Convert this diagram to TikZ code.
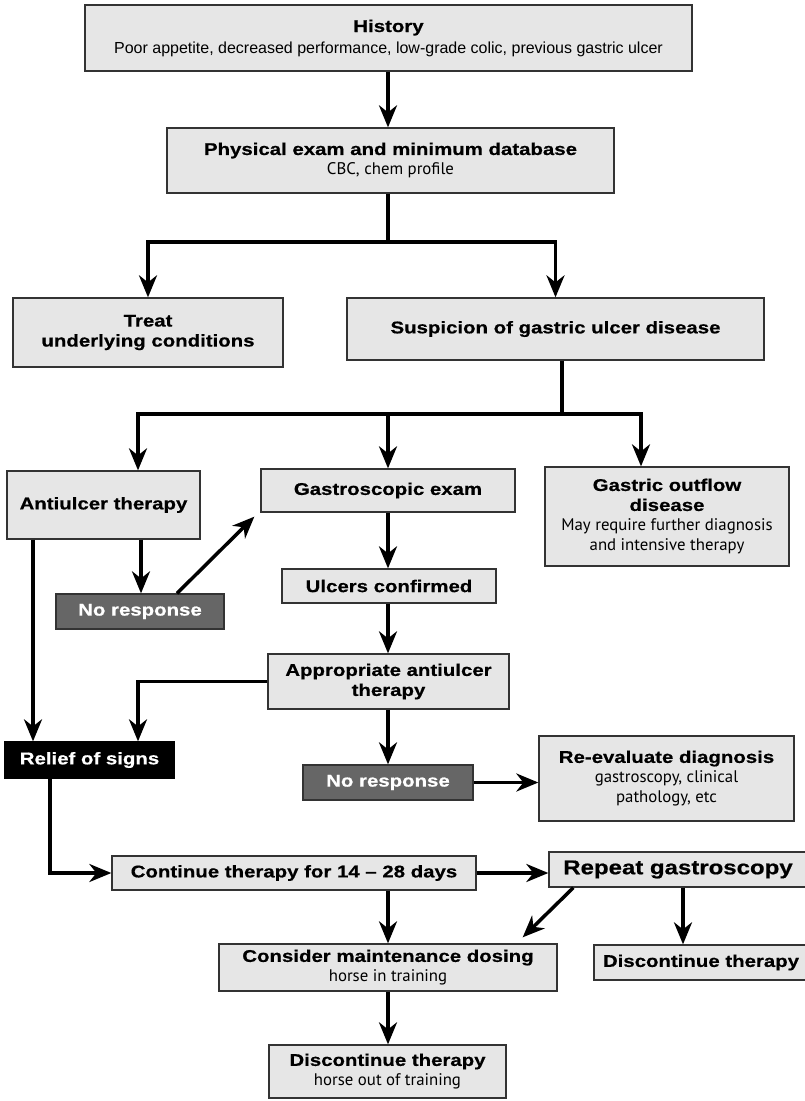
\documentclass[tikz,border=0pt]{standalone}
\usepackage{fontspec}
\setmainfont{Liberation Sans}
\newfontfamily\ttlfont[FakeStretch=1.2,FakeBold=0.6,Ligatures=TeX]{Liberation Sans}
\newfontfamily\subfont[Ligatures=TeX]{PT Sans}
\usetikzlibrary{arrows.meta,calc}
\definecolor{boxfill}{HTML}{E6E6E6}
\definecolor{boxdraw}{HTML}{333333}
\definecolor{nrfill}{HTML}{666666}
\newcommand\ttl[1]{{\ttlfont\bfseries #1}}
\newcommand\hsub[1]{{\fontsize{16}{20}\selectfont #1}}
\newcommand\msub[1]{{\subfont\fontsize{16.8}{20}\selectfont #1}}
\tikzset{
  box/.style={draw=boxdraw, line width=1.3pt, fill=boxfill, inner sep=0pt, align=center,
    font=\fontsize{17}{20}\selectfont},
  nrbox/.style={box, fill=nrfill, text=white},
  blackbox/.style={box, fill=black, draw=black, text=white},
  arr/.style={line width=3.5pt, -{Stealth[length=22pt,width=18pt,inset=7pt]}},
  conn/.style={line width=3.5pt}
}
\begin{document}
\begin{tikzpicture}[x=1pt,y=-1pt]
\clip (0,0) rectangle (805,1101);
\fill[white] (0,0) rectangle (805,1101);

\node[box, minimum width=607pt, minimum height=66pt] (hist) at (388.5,38)
  {\ttl{History}\\[1pt] \hsub{Poor appetite, decreased performance, low-grade colic, previous gastric ulcer}};
\node[box, minimum width=447pt, minimum height=65pt] (phys) at (390.5,160.5)
  {\ttl{Physical exam and minimum database}\\ \msub{CBC, chem profile}};
\node[box, minimum width=270pt, minimum height=69pt] (treat) at (148,332.5)
  {\ttl{Treat}\\ \ttl{underlying conditions}};
\node[box, minimum width=417pt, minimum height=62pt] (susp) at (555.5,329)
  {\ttl{Suspicion of gastric ulcer disease}};
\node[box, minimum width=193pt, minimum height=68pt] (anti) at (103.5,505)
  {\ttl{Antiulcer therapy}};
\node[box, minimum width=254pt, minimum height=43pt] (gastro) at (388,490.5)
  {\ttl{Gastroscopic exam}};
\node[box, minimum width=244pt, minimum height=99pt] (outflow) at (667,516.5)
  {\ttl{Gastric outflow}\\ \ttl{disease}\\ \msub{May require further diagnosis}\\ \msub{and intensive therapy}};
\node[nrbox, minimum width=168pt, minimum height=35pt] (nr1) at (140,611.5)
  {\ttl{No response}};
\node[box, minimum width=214pt, minimum height=34pt] (ulcers) at (389,586)
  {\ttl{Ulcers confirmed}};
\node[box, minimum width=241pt, minimum height=55pt] (approp) at (388.5,681.5)
  {\ttl{Appropriate antiulcer}\\ \ttl{therapy}};
\node[blackbox, minimum width=169pt, minimum height=36pt] (relief) at (89.5,760)
  {\ttl{Relief of signs}};
\node[nrbox, minimum width=170pt, minimum height=35pt] (nr2) at (388,782.5)
  {\ttl{No response}};
\node[box, minimum width=255pt, minimum height=85pt] (reeval) at (666.5,778.5)
  {\ttl{Re-evaluate diagnosis}\\ \msub{gastroscopy, clinical}\\ \msub{pathology, etc}};
\node[box, minimum width=364pt, minimum height=34pt] (cont) at (294,873)
  {\ttl{Continue therapy for 14 \textendash\ 28 days}};
\node[box, minimum width=258pt, minimum height=35pt, font=\fontsize{20}{24}\selectfont] (repeat) at (678,869.5)
  {\ttl{Repeat gastroscopy}};
\node[box, minimum width=214pt, minimum height=35pt] (disc2) at (701,962.5)
  {\ttl{Discontinue therapy}};
\node[box, minimum width=338pt, minimum height=47pt] (consider) at (388,967.5)
  {\ttl{Consider maintenance dosing}\\ \msub{horse in training}};
\node[box, minimum width=237pt, minimum height=53pt] (disc1) at (387.5,1071.5)
  {\ttl{Discontinue therapy}\\ \msub{horse out of training}};

\coordinate (xB) at (388,0);
\coordinate (j1) at (388,242);
\coordinate (j2) at (562,414);
\coordinate (bA) at (138,414);
\coordinate (bB) at (388,414);
\coordinate (bC) at (641,414);
\coordinate (xL) at (33,0);
\coordinate (xR) at (50,0);
\coordinate (xD) at (683,0);
\coordinate (xN) at (141,0);

\draw[arr] (xB |- hist.south) -- (xB |- phys.north);
\draw[conn] (xB |- phys.south) -- (j1);
\draw[arr] (j1) -| (treat.north);
\draw[arr] (j1) -| (susp.north);
\draw[conn] (j2 |- susp.south) -- (j2);
\draw[arr] (j2) -| (bA |- anti.north);
\draw[arr] (j2) -| (bC |- outflow.north);
\draw[arr] (bB) -- (bB |- gastro.north);
\draw[arr] (xN |- anti.south) -- (xN |- nr1.north);
\draw[arr] ($(nr1.north)+(37,0)$) -- ($(gastro.south west)+(-6,4)$);
\draw[arr] (xL |- anti.south) -- (xL |- relief.north);
\draw[arr] (xB |- gastro.south) -- (xB |- ulcers.north);
\draw[arr] (xB |- ulcers.south) -- (xB |- approp.north);
\draw[arr] (approp.west) -| (bA |- relief.north);
\draw[arr] (xB |- approp.south) -- (xB |- nr2.north);
\draw[arr] (nr2.east) -- (nr2.east -| reeval.west);
\draw[arr] (xR |- relief.south) |- (cont.west);
\draw[arr] (cont.east) -- (cont.east -| repeat.west);
\draw[arr] (xB |- cont.south) -- (xB |- consider.north);
\draw[arr] ($(repeat.south west)+(25,0)$) -- ($(consider.north east)+(-35,-6)$);
\draw[arr] (xD |- repeat.south) -- (xD |- disc2.north);
\draw[arr] (xB |- consider.south) -- (xB |- disc1.north);
\end{tikzpicture}
\end{document}
